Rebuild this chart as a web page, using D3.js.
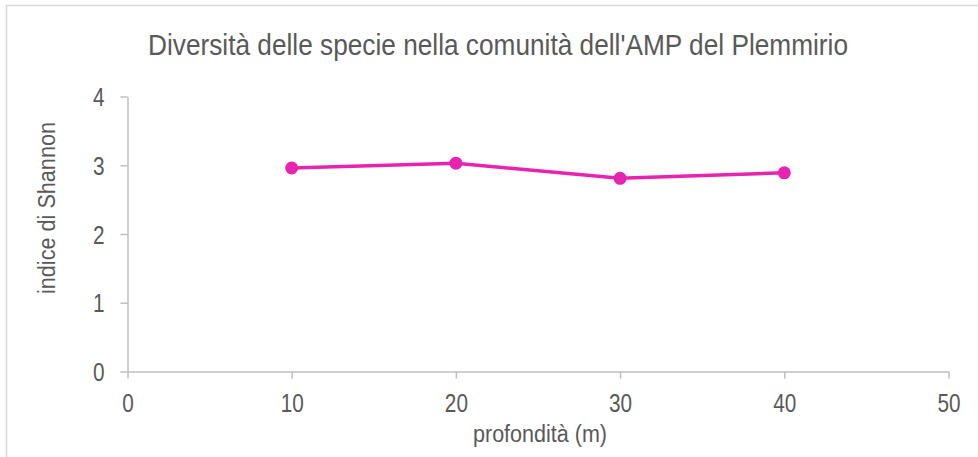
<!DOCTYPE html>
<html><head><meta charset="utf-8">
<script src="https://cdn.jsdelivr.net/npm/d3@7"></script>
<style>
html,body{margin:0;padding:0;background:#fff;}
svg text{font-family:"Liberation Sans Narrow","Arial Narrow","Liberation Sans",sans-serif;fill:#595959;}
</style></head><body>
<svg id="chart" width="978" height="457"></svg>
<script>
const depths = [10, 20, 30, 40];
const shannon = [2.96, 3.03, 2.81, 2.89];
const xTicks = [0, 10, 20, 30, 40, 50];
const yTicks = [0, 1, 2, 3, 4];
const title = "Diversità delle specie nella comunità dell'AMP del Plemmirio";
const xTitle = "profondità (m)";
const yTitle = "indice di Shannon";

function fitWidth(sel, w) {
  sel.attr("textLength", w).attr("lengthAdjust", "spacingAndGlyphs");
}
function condense(sel, f) {
  sel.each(function() {
    const w = this.getComputedTextLength();
    d3.select(this).attr("textLength", w * f).attr("lengthAdjust", "spacingAndGlyphs");
  });
}

const svg = d3.select("#chart");
svg.append("rect").attr("x", 6.5).attr("y", 5.5).attr("width", 1000).attr("height", 500)
  .attr("fill", "none").attr("stroke", "#d9d9d9").attr("stroke-width", 1.5);

const x = d3.scaleLinear().domain([0, 50]).range([127.5, 948.5]);
const y = d3.scaleLinear().domain([0, 4]).range([371.5, 96.5]);

const gx = svg.append("g").attr("transform", `translate(0,${y(0)})`)
  .call(d3.axisBottom(x).tickValues(xTicks).tickFormat(d3.format("d")).tickSize(7).tickSizeOuter(0).tickPadding(16));
const gy = svg.append("g").attr("transform", `translate(${x(0)},0)`)
  .call(d3.axisLeft(y).tickValues(yTicks).tickFormat(d3.format("d")).tickSize(7).tickSizeOuter(0).tickPadding(16));
[gx, gy].forEach(g => {
  g.selectAll("path,line").attr("stroke", "#bfbfbf").attr("stroke-width", 1.5);
  g.selectAll("text").attr("font-size", 25).attr("fill", "#595959")
   .style("font-family", '"Liberation Sans Narrow","Arial Narrow","Liberation Sans",sans-serif');
  condense(g.selectAll("text"), 0.83);
});
gy.selectAll("text").attr("dy", "0.36em");

const data = depths.map((d, i) => ({x: d, y: shannon[i]}));
svg.append("path").datum(data)
  .attr("fill", "none").attr("stroke", "#E823B0").attr("stroke-width", 3.5)
  .attr("d", d3.line().x(d => x(d.x)).y(d => y(d.y)));
svg.selectAll("circle.pt").data(data).enter().append("circle")
  .attr("cx", d => x(d.x)).attr("cy", d => y(d.y)).attr("r", 6.5).attr("fill", "#E823B0");

const t = svg.append("text").attr("x", 498).attr("y", 55).attr("text-anchor", "middle")
  .attr("font-size", 30).text(title);
fitWidth(t, 700);
const xt = svg.append("text").attr("x", 540).attr("y", 442).attr("text-anchor", "middle")
  .attr("font-size", 23).text(xTitle);
fitWidth(xt, 134);
const yt = svg.append("text").attr("transform", "translate(55,208) rotate(-90)").attr("text-anchor", "middle")
  .attr("font-size", 23).text(yTitle);
fitWidth(yt, 172);
</script>
</body></html>
